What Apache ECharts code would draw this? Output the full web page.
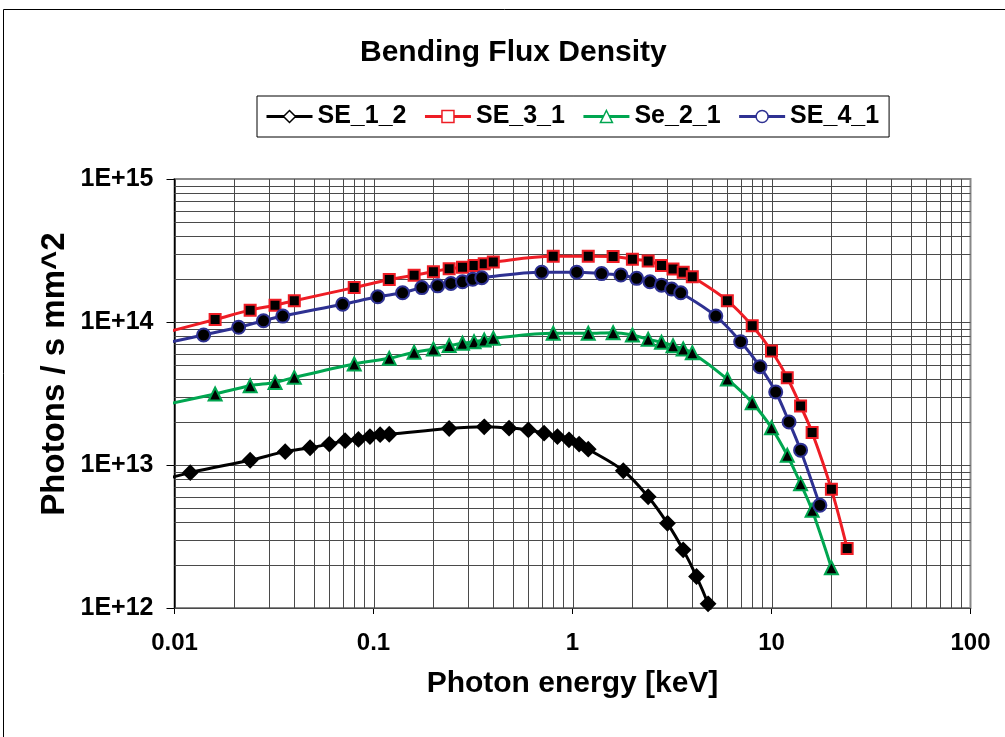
<!DOCTYPE html>
<html>
<head>
<meta charset="utf-8">
<title>Bending Flux Density</title>
<script src="https://cdn.jsdelivr.net/npm/echarts@6/dist/echarts.min.js"></script>
<style>
  html, body { margin: 0; padding: 0; background: #fff; }
  #chart { width: 1005px; height: 737px; }
</style>
</head>
<body>
<div id="chart"></div>
<script>
// Photon energies [keV] and flux densities [photons / s mm^2] for each source
const energySE12 = [0.006, 0.012, 0.024, 0.036, 0.048, 0.06, 0.072, 0.084, 0.096, 0.108, 0.12,
  0.24, 0.36, 0.48, 0.6, 0.72, 0.84, 0.96, 1.08, 1.2, 1.8, 2.4, 3.0, 3.6, 4.2, 4.8, 5.4];
const fluxSE12 = [6.8e12, 8.84e12, 1.08e13, 1.24e13, 1.32e13, 1.40e13, 1.48e13, 1.51e13, 1.58e13, 1.63e13, 1.64e13,
  1.80e13, 1.85e13, 1.81e13, 1.76e13, 1.67e13, 1.58e13, 1.50e13, 1.40e13, 1.29e13, 9.12e12, 6.0e12, 3.91e12, 2.55e12, 1.66e12, 1.07e12, 6.6e11];

const energySE31 = [0.008, 0.016, 0.024, 0.032, 0.04, 0.08, 0.12, 0.16, 0.2, 0.24, 0.28, 0.32, 0.36, 0.4,
  0.8, 1.2, 1.6, 2.0, 2.4, 2.8, 3.2, 3.6, 4.0, 6, 8, 10, 12, 14, 16, 20, 24];
const fluxSE31 = [8.1e13, 1.04e14, 1.21e14, 1.31e14, 1.41e14, 1.74e14, 1.98e14, 2.12e14, 2.25e14, 2.36e14, 2.41e14, 2.48e14, 2.55e14, 2.63e14,
  2.88e14, 2.88e14, 2.87e14, 2.75e14, 2.67e14, 2.48e14, 2.35e14, 2.23e14, 2.07e14, 1.41e14, 9.4e13, 6.27e13, 4.08e13, 2.59e13, 1.69e13, 6.76e12, 2.61e12];

const energySe21 = [0.008, 0.016, 0.024, 0.032, 0.04, 0.08, 0.12, 0.16, 0.2, 0.24, 0.28, 0.32, 0.36, 0.4,
  0.8, 1.2, 1.6, 2.0, 2.4, 2.8, 3.2, 3.6, 4.0, 6, 8, 10, 12, 14, 16, 20];
const fluxSe21 = [2.55e13, 3.14e13, 3.58e13, 3.78e13, 4.10e13, 5.09e13, 5.57e13, 6.14e13, 6.47e13, 6.85e13, 7.10e13, 7.28e13, 7.48e13, 7.69e13,
  8.34e13, 8.34e13, 8.42e13, 8.11e13, 7.57e13, 7.21e13, 6.83e13, 6.47e13, 6.10e13, 3.99e13, 2.73e13, 1.82e13, 1.17e13, 7.4e12, 4.82e12, 1.91e12];

const energySE41 = [0.007, 0.014, 0.021, 0.028, 0.035, 0.07, 0.105, 0.14, 0.175, 0.21, 0.245, 0.28, 0.315, 0.35,
  0.7, 1.05, 1.4, 1.75, 2.1, 2.45, 2.8, 3.15, 3.5, 5.25, 7, 8.75, 10.5, 12.25, 14, 17.5];
const fluxSE41 = [6.6e13, 8.11e13, 9.18e13, 1.02e14, 1.10e14, 1.33e14, 1.50e14, 1.60e14, 1.74e14, 1.79e14, 1.86e14, 1.91e14, 1.99e14, 2.04e14,
  2.23e14, 2.23e14, 2.18e14, 2.13e14, 2.02e14, 1.91e14, 1.81e14, 1.70e14, 1.60e14, 1.10e14, 7.28e13, 4.87e13, 3.24e13, 2.0e13, 1.27e13, 5.23e12];

// Axis ticks and labels
const xTicks = [0.01, 0.1, 1, 10, 100];
const xTickLabels = ['0.01', '0.1', '1', '10', '100'];
const yTicks = [1e12, 1e13, 1e14, 1e15];
const yTickLabels = ['1E+12', '1E+13', '1E+14', '1E+15'];

// Log gridlines: 1..9 within each decade
const xGridValues = [];
for (let d = -2; d < 2; d++) for (let m = 1; m <= 9; m++) xGridValues.push(m * Math.pow(10, d));
const yGridValues = [];
for (let d = 12; d < 15; d++) for (let m = 1; m <= 9; m++) yGridValues.push(m * Math.pow(10, d));

const X_MIN = 0.01, X_MAX = 100, Y_MIN = 1e12, Y_MAX = 1e15;
const FONT = "'Liberation Sans', Arial, sans-serif";

const seriesDefs = [
  { name: 'SE_1_2', x: energySE12, y: fluxSE12, color: '#000000', symbol: 'diamond', size: 14 },
  { name: 'SE_3_1', x: energySE31, y: fluxSE31, color: '#ee1d25', symbol: 'rect', size: 11 },
  { name: 'Se_2_1', x: energySe21, y: fluxSe21, color: '#00a650', symbol: 'triangle', size: 13 },
  { name: 'SE_4_1', x: energySE41, y: fluxSE41, color: '#2e3192', symbol: 'circle', size: 13 }
];

function labelFor(ticks, labels, v) {
  let best = 0;
  for (let i = 1; i < ticks.length; i++) {
    if (Math.abs(Math.log10(ticks[i]) - Math.log10(v)) < Math.abs(Math.log10(ticks[best]) - Math.log10(v))) best = i;
  }
  return labels[best];
}

function crisp(v) { return Math.round(v) + 0.5; }

const gridSeries = [
  {
    type: 'custom', silent: true, z: 1, clip: false,
    encode: { x: 0, y: 1 },
    data: xGridValues.map(v => [v, Y_MIN]),
    renderItem: (params, api) => {
      const v = api.value(0);
      const a = api.coord([v, Y_MIN]);
      const b = api.coord([v, Y_MAX]);
      const x = crisp(a[0]);
      return { type: 'line', shape: { x1: x, y1: a[1], x2: x, y2: b[1] }, style: { stroke: '#4a4a4a', lineWidth: 1 } };
    }
  },
  {
    type: 'custom', silent: true, z: 1, clip: false,
    encode: { x: 0, y: 1 },
    data: yGridValues.map(v => [X_MIN, v]),
    renderItem: (params, api) => {
      const v = api.value(1);
      const a = api.coord([X_MIN, v]);
      const b = api.coord([X_MAX, v]);
      const y = crisp(a[1]);
      return { type: 'line', shape: { x1: a[0], y1: y, x2: b[0], y2: y }, style: { stroke: '#4a4a4a', lineWidth: 1 } };
    }
  }
];

const dataSeries = seriesDefs.map(s => ({
  name: s.name,
  type: 'line',
  z: 5,
  clip: true,
  smooth: 0.35,
  symbol: s.symbol,
  symbolSize: s.size,
  showAllSymbol: true,
  data: s.x.map((e, i) => [e, s.y[i]]),
  lineStyle: { color: s.color, width: 3 },
  itemStyle: { color: '#000000', borderColor: s.color, borderWidth: 2 },
  emphasis: { disabled: true }
}));

const chart = echarts.init(document.getElementById('chart'), null, { renderer: 'canvas' });

chart.setOption({
  backgroundColor: '#ffffff',
  animation: false,
  title: {
    text: 'Bending Flux Density',
    left: 355,
    top: 33,
    textStyle: { fontFamily: FONT, fontWeight: 'bold', fontSize: 30, color: '#000' }
  },
  legend: {
    left: 257,
    top: 96,
    padding: [8, 10, 8, 8],
    itemGap: 17,
    itemWidth: 46,
    itemHeight: 15,
    borderColor: '#000',
    borderWidth: 1,
    selectedMode: false,
    textStyle: { fontFamily: FONT, fontWeight: 'bold', fontSize: 25, color: '#000' },
    data: seriesDefs.map(s => ({
      name: s.name,
      itemStyle: { color: '#ffffff', borderColor: s.color, borderWidth: 1.5 },
      lineStyle: { color: s.color, width: 3 }
    }))
  },
  grid: {
    left: 174.5,
    right: 34.5,
    top: 179,
    bottom: 129,
    show: true,
    borderColor: '#888888',
    borderWidth: 2,
    backgroundColor: 'transparent'
  },
  xAxis: {
    type: 'log',
    logBase: 10,
    min: X_MIN,
    max: X_MAX,
    name: 'Photon energy [keV]',
    nameLocation: 'middle',
    nameGap: 61,
    nameTextStyle: { fontFamily: FONT, fontWeight: 'bold', fontSize: 30, color: '#000' },
    axisLine: { onZero: false, lineStyle: { color: '#000', width: 1 } },
    axisTick: { show: true, length: 6, lineStyle: { color: '#000' } },
    splitLine: { show: false },
    minorTick: { show: false },
    axisLabel: {
      margin: 23,
      fontFamily: FONT, fontWeight: 'bold', fontSize: 24, color: '#000',
      formatter: v => labelFor(xTicks, xTickLabels, v)
    }
  },
  yAxis: {
    type: 'log',
    logBase: 10,
    min: Y_MIN,
    max: Y_MAX,
    axisLine: { onZero: false, lineStyle: { color: '#000', width: 1 } },
    axisTick: { show: true, length: 8, lineStyle: { color: '#000' } },
    splitLine: { show: false },
    axisLabel: {
      margin: 21,
      fontFamily: FONT, fontWeight: 'bold', fontSize: 25, color: '#000',
      formatter: v => labelFor(yTicks, yTickLabels, v)
    }
  },
  graphic: [
    {
      type: 'rect', silent: true, z: -10,
      shape: { x: 3.5, y: 9.5, width: 1100, height: 900 },
      style: { fill: 'none', stroke: '#000', lineWidth: 1 }
    },
    {
      type: 'text', silent: true,
      x: 55, y: 374, rotation: Math.PI / 2,
      style: {
        text: 'Photons / s mm^2',
        font: "bold 33px 'Liberation Sans', Arial, sans-serif",
        fill: '#000',
        textAlign: 'center',
        textVerticalAlign: 'middle'
      }
    }
  ],
  series: gridSeries.concat(dataSeries)
});
</script>
</body>
</html>
